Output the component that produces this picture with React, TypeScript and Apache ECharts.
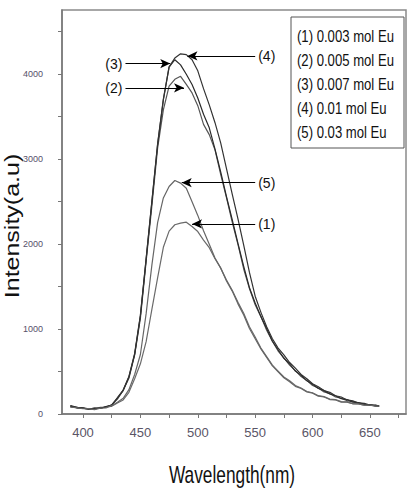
import React, { useEffect, useRef } from "react";
import * as echarts from "echarts";

const wavelength = [389, 395, 400, 405, 410, 415, 420, 425, 430, 435, 440, 445, 450, 455, 460, 465, 470, 475, 480, 485, 490, 495, 500, 505, 510, 515, 520, 525, 530, 535, 540, 545, 550, 555, 560, 565, 570, 575, 580, 585, 590, 595, 600, 605, 610, 615, 620, 625, 630, 635, 640, 645, 650, 655, 658];

const eu0003 = [95, 70, 68, 55, 70, 65, 85, 90, 130, 165, 255, 415, 590, 850, 1230, 1600, 1960, 2150, 2225, 2245, 2255, 2205, 2145, 2045, 1955, 1825, 1715, 1575, 1455, 1315, 1185, 1025, 905, 775, 675, 575, 505, 435, 390, 335, 305, 265, 250, 215, 205, 175, 170, 145, 142, 122, 120, 105, 107, 92, 95];
const eu0005 = [80, 78, 65, 62, 55, 78, 82, 108, 175, 280, 420, 695, 1125, 1795, 2445, 3125, 3575, 3855, 3935, 3970, 3875, 3775, 3625, 3405, 3285, 3105, 2815, 2545, 2255, 1995, 1705, 1475, 1285, 1145, 985, 855, 740, 660, 575, 510, 440, 395, 335, 305, 260, 240, 200, 185, 155, 148, 125, 118, 100, 102, 88];
const eu0007 = [92, 72, 68, 58, 68, 66, 88, 106, 188, 276, 434, 698, 1152, 1818, 2492, 3168, 3692, 4078, 4165, 4105, 3995, 3875, 3715, 3525, 3365, 3115, 2845, 2555, 2285, 2005, 1735, 1485, 1305, 1145, 1005, 855, 755, 655, 590, 505, 455, 390, 350, 300, 275, 235, 215, 180, 170, 140, 135, 114, 110, 96, 95];
const eu001 = [98, 78, 72, 62, 63, 68, 82, 102, 192, 282, 442, 712, 1162, 1828, 2502, 3178, 3702, 4082, 4185, 4235, 4225, 4165, 4035, 3825, 3635, 3425, 3185, 2885, 2585, 2295, 1985, 1665, 1385, 1195, 1025, 885, 775, 695, 605, 540, 465, 415, 355, 320, 275, 255, 215, 200, 165, 155, 130, 125, 105, 104, 92];
const eu003 = [82, 73, 62, 64, 52, 68, 72, 98, 138, 184, 286, 464, 700, 1180, 1750, 2250, 2540, 2675, 2745, 2715, 2655, 2495, 2335, 2155, 1995, 1835, 1715, 1565, 1445, 1295, 1165, 1005, 885, 765, 665, 565, 495, 425, 380, 325, 300, 260, 245, 210, 200, 170, 165, 140, 140, 120, 120, 104, 104, 92, 92];

const seriesNames = ["(1) 0.003 mol Eu", "(2) 0.005 mol Eu", "(3) 0.007 mol Eu", "(4) 0.01 mol Eu", "(5) 0.03 mol Eu"];
const seriesColors = ["#6a6a6a", "#555555", "#2a2a2a", "#333333", "#666666"];

const xTickValues = [400, 425, 450, 475, 500, 525, 550, 575, 600, 625, 650, 675];
const xLabelValues = [400, 450, 500, 550, 600, 650];
const yTickValues = [0, 500, 1000, 1500, 2000, 2500, 3000, 3500, 4000, 4500];
const yLabelValues = [0, 1000, 2000, 3000, 4000];

const arrowLabels = ["(3)", "(2)", "(4)", "(5)", "(1)"];
const arrowFromX = [437, 437, 550, 550, 550];
const arrowToX = [476, 488, 491, 486, 495];
const arrowY = [4120, 3835, 4210, 2720, 2235];

export default function App() {
  const ref = useRef<HTMLDivElement>(null);
  useEffect(() => {
    if (!ref.current) return;
    const chart = echarts.init(ref.current, null, { renderer: "svg" });
    const dataSets = [eu0003, eu0005, eu0007, eu001, eu003];
    const series: any[] = dataSets.map((d, i) => ({
      type: "line",
      name: seriesNames[i],
      data: wavelength.map((w, j) => [w, d[j]]),
      showSymbol: false,
      symbol: "none",
      lineStyle: { color: seriesColors[i], width: 1.2 },
      silent: true,
    }));
    series.push({
      type: "line",
      data: [],
      silent: true,
      markLine: {
        silent: true,
        symbol: ["none", "arrow"],
        symbolSize: [7, 10],
        lineStyle: { color: "#000", width: 1.2, type: "solid" },
        label: {
          show: true,
          position: "start",
          distance: 3,
          color: "#111",
          fontSize: 14,
          fontFamily: "'Liberation Sans Narrow', 'Liberation Sans', Arial, sans-serif",
        },
        data: arrowLabels.map((lab, i) => [
          { coord: [arrowFromX[i], arrowY[i]], label: { formatter: lab } },
          { coord: [arrowToX[i], arrowY[i]] },
        ]),
      },
    });

    chart.setOption({
      animation: false,
      backgroundColor: "#ffffff",
      grid: {
        left: 62,
        right: 6,
        top: 10,
        bottom: 78,
        show: true,
        borderColor: "#8a8a8a",
        borderWidth: 1.5,
        outerBoundsMode: "none",
      },
      xAxis: {
        type: "value",
        min: 381.7,
        max: 681.4,
        axisLine: { show: true, lineStyle: { color: "#777", width: 1.5 } },
        axisTick: { show: true, inside: false, length: 4, customValues: xTickValues, lineStyle: { color: "#777" } },
        axisLabel: {
          customValues: xLabelValues,
          formatter: (v: number) => String(v),
          margin: 12,
          fontSize: 13,
          color: "#5a5566",
          fontFamily: "'Liberation Sans Narrow', 'Liberation Sans', Arial, sans-serif",
        },
        splitLine: { show: false },
      },
      yAxis: {
        type: "value",
        min: 0,
        max: 4750,
        axisLine: { show: true, lineStyle: { color: "#777", width: 1.5 } },
        axisTick: { show: true, inside: false, length: 4, customValues: yTickValues, lineStyle: { color: "#777" } },
        axisLabel: {
          customValues: yLabelValues,
          formatter: (v: number) => String(v),
          margin: 19,
          fontSize: 9,
          color: "#56506a",
          fontFamily: "'Liberation Sans Narrow', 'Liberation Sans', Arial, sans-serif",
        },
        splitLine: { show: false },
      },
      graphic: [
        {
          type: "rect",
          shape: { x: 291, y: 17, width: 113, height: 131 },
          style: { fill: "#fff", stroke: "#555", lineWidth: 1 },
          z: 100,
        },
        ...seriesNames.map((n, i) => ({
          type: "text",
          x: 297,
          y: 37 + i * 24,
          scaleX: 0.82,
          z: 101,
          style: {
            text: n,
            fontSize: 16,
            fontFamily: "'Liberation Sans', Arial, sans-serif",
            fill: "#111",
            textAlign: "left",
            textVerticalAlign: "middle",
          },
        })),
        {
          type: "text",
          x: 232,
          y: 474,
          scaleX: 0.72,
          style: {
            text: "Wavelength(nm)",
            fontSize: 24,
            fontFamily: "'Liberation Sans', Arial, sans-serif",
            fill: "#111",
            textAlign: "center",
            textVerticalAlign: "middle",
          },
        },
        {
          type: "text",
          x: 12,
          y: 226,
          rotation: Math.PI / 2,
          scaleY: 0.8,
          style: {
            text: "Intensity(a.u)",
            fontSize: 25,
            fontFamily: "'Liberation Sans', Arial, sans-serif",
            fill: "#111",
            textAlign: "center",
            textVerticalAlign: "middle",
          },
        },
      ],
      series,
    });
    return () => chart.dispose();
  }, []);
  return (
    <div
      ref={ref}
      style={{ position: "fixed", left: 0, top: 0, width: 412, height: 492, background: "#fff" }}
    />
  );
}
